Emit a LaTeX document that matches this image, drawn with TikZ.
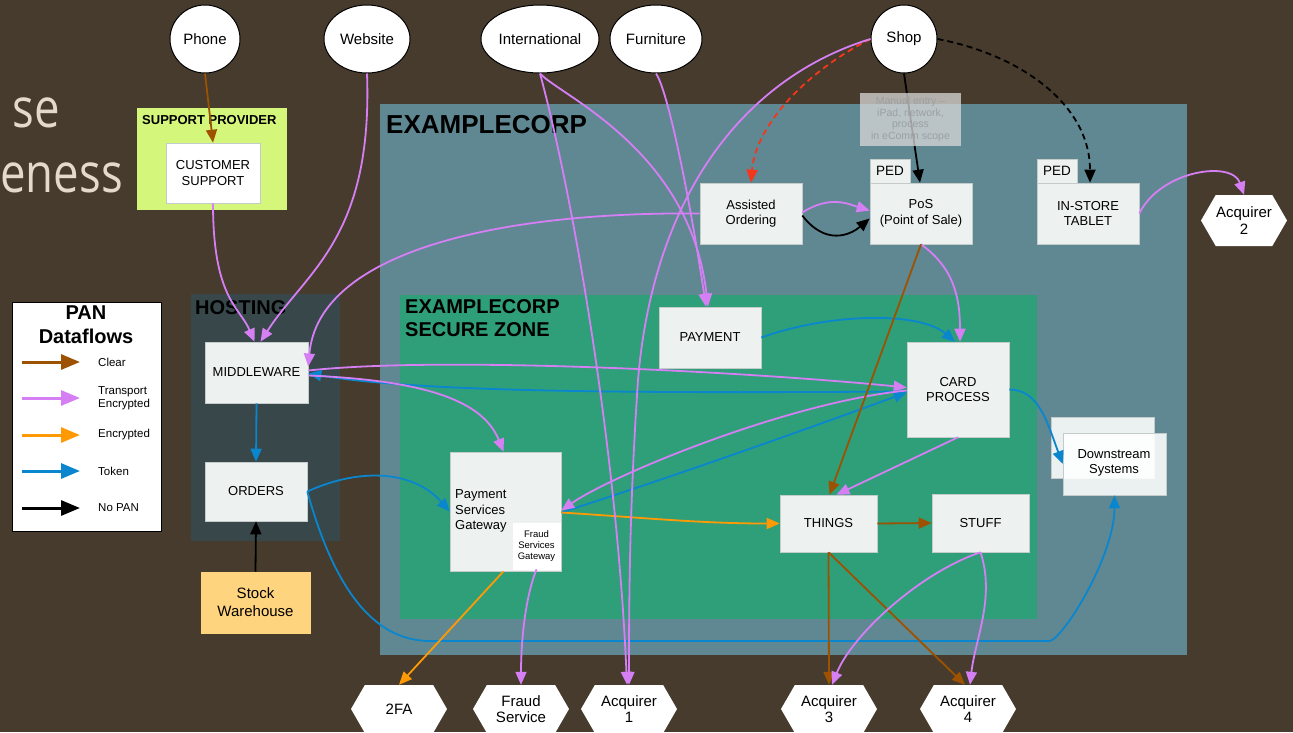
\documentclass[tikz,border=0pt]{standalone}
\usepackage{fontspec}
\setmainfont{Liberation Sans}
\newfontfamily\slidefont{Open Sans}
\usetikzlibrary{arrows.meta,shapes.geometric,shapes.symbols}

\definecolor{bgbrown}{HTML}{463B2C}
\definecolor{corpc}{HTML}{5F8893}
\definecolor{hostc}{HTML}{37474A}
\definecolor{securec}{HTML}{2F9F7A}
\definecolor{supportc}{HTML}{D4F67A}
\definecolor{boxfill}{HTML}{EDF2F1}
\definecolor{boxedge}{HTML}{C3CCCA}
\definecolor{stockc}{HTML}{FFD47F}
\definecolor{slidetext}{HTML}{E3DACB}
\definecolor{clearc}{HTML}{9C5200}
\definecolor{tencc}{HTML}{D67FF5}
\definecolor{encc}{HTML}{FF9A05}
\definecolor{tokc}{HTML}{0A86CF}
\definecolor{redc}{HTML}{F5361B}
\definecolor{notefill}{HTML}{D9D9D9}
\definecolor{notetext}{HTML}{9A9FA2}

\tikzset{
  region/.style={inner sep=0pt, outer sep=0pt},
  regionlabel/.style={inner sep=0pt, font=\bfseries\fontsize{20}{23}\selectfont, align=left},
  box/.style={draw=boxedge, fill=boxfill, line width=0.6pt, inner sep=1pt,
    align=center, font=\fontsize{13}{15.5}\selectfont},
  pedtab/.style={box, minimum width=40, minimum height=24, font=\fontsize{13.5}{15}\selectfont},
  source/.style={ellipse, draw=black, fill=white, line width=1pt, inner sep=0pt,
    minimum height=68, font=\fontsize{15}{17}\selectfont},
  hexa/.style={signal, signal to=east and west, signal pointer angle=120, fill=white,
    inner sep=0pt, minimum height=48, minimum width=96, align=center,
    font=\fontsize{15}{16.5}\selectfont},
  flowline/.style={line width=1.8pt, -{Triangle[length=13pt,width=11pt]}},
  clearflow/.style={flowline, draw=clearc},
  tencflow/.style={flowline, draw=tencc},
  encflow/.style={flowline, draw=encc},
  tokflow/.style={flowline, draw=tokc},
  nopanflow/.style={flowline, draw=black},
  longdash/.style={dash pattern=on 6pt off 4pt},
  keyline/.style={line width=3pt, -{Triangle[length=19pt,width=15pt]}},
  keytext/.style={anchor=west, inner sep=0pt, align=left, font=\fontsize{11.5}{13.5}\selectfont},
  slidebit/.style={anchor=base east, inner sep=0pt, text=slidetext, font=\slidefont\fontsize{45.5}{50}\selectfont},
}

\begin{document}
\begin{tikzpicture}[x=1pt,y=-1pt]
% canvas
\fill[bgbrown] (0,0) rectangle (1293,732);
\useasboundingbox (0,0) rectangle (1293,732);

% slide title fragments at the left edge
\node[slidebit] (titleA) at (60,127) {\scalebox{1}[1.2]{se}};
\node[slidebit] (titleB) at (123,192) {\scalebox{1}[1.2]{eness}};

% zones
\node[region, fill=corpc, minimum width=807, minimum height=551] (corp) at (783.5,379.5) {};
\node[regionlabel, anchor=west, font=\bfseries\fontsize{26}{28}\selectfont] (corplabel) at (386,125) {EXAMPLECORP};
\node[region, fill=securec, minimum width=637, minimum height=324] (secure) at (718.5,457) {};
\node[regionlabel, anchor=north west] (securelabel) at (405,299) {EXAMPLECORP\\SECURE ZONE};
\node[region, fill=hostc, minimum width=149, minimum height=247] (hosting) at (265.5,417.5) {};
\node[regionlabel, anchor=west] (hostlabel) at (195,308) {HOSTING};
\node[region, fill=supportc, minimum width=150, minimum height=102] (support) at (212,159) {};
\node[regionlabel, anchor=west, font=\bfseries\fontsize{13}{15}\selectfont] (supportlabel) at (142,120) {SUPPORT PROVIDER};

% legend
\node[region, fill=white, draw=black, line width=0.8pt, minimum width=149, minimum height=229] (legend) at (86.5,416.5) {};
\node[inner sep=0pt, align=center, font=\bfseries\fontsize{20}{24}\selectfont] (legendtitle) at (86,325) {PAN\\Dataflows};
\coordinate (k1a) at (22,362); \coordinate (k1b) at (80,362);
\coordinate (k2a) at (22,398); \coordinate (k2b) at (80,398);
\coordinate (k3a) at (22,435); \coordinate (k3b) at (80,435);
\coordinate (k4a) at (22,471); \coordinate (k4b) at (80,471);
\coordinate (k5a) at (22,508); \coordinate (k5b) at (80,508);
\draw[keyline, draw=clearc] (k1a) -- (k1b);
\draw[keyline, draw=tencc] (k2a) -- (k2b);
\draw[keyline, draw=encc] (k3a) -- (k3b);
\draw[keyline, draw=tokc] (k4a) -- (k4b);
\draw[keyline, draw=black] (k5a) -- (k5b);
\node[keytext] (kt1) at (98,362) {Clear};
\node[keytext] (kt2) at (98,398) {Transport\\Encrypted};
\node[keytext] (kt3) at (98,435) {Encrypted};
\node[keytext] (kt4) at (98,471) {Token};
\node[keytext] (kt5) at (98,508) {No PAN};

% sources
\node[source, minimum width=70] (phone) at (205,39) {Phone};
\node[source, minimum width=86] (web) at (367,39) {Website};
\node[source, minimum width=118] (intl) at (540,39) {International};
\node[source, minimum width=92] (furn) at (656,39) {Furniture};
\node[source, minimum width=66] (shop) at (904,39) {Shop};

% systems
\node[box, fill=white, minimum width=94, minimum height=60] (cs) at (213,173) {CUSTOMER\\SUPPORT};
\node[box, minimum width=103, minimum height=61] (mw) at (256.5,372.5) {MIDDLEWARE};
\node[box, minimum width=102, minimum height=59] (ord) at (256,491.5) {ORDERS};
\node[box, fill=stockc, draw=stockc, minimum width=109, minimum height=61, font=\fontsize{15}{18}\selectfont] (stock) at (255.5,602.5) {Stock\\Warehouse};
\node[box, minimum width=102, minimum height=61] (ao) at (751,213.5) {Assisted\\Ordering};
\node[pedtab] (pedpos) at (890,171) {PED};
\node[box, minimum width=102, minimum height=61] (pos) at (921,213.5) {PoS\\(Point of Sale)};
\node[pedtab] (pedist) at (1057,171) {PED};
\node[box, minimum width=102, minimum height=61] (ist) at (1088,213.5) {IN-STORE\\TABLET};
\node[box, minimum width=102, minimum height=61] (pay) at (710,337.5) {PAYMENT};
\node[box, minimum width=102, minimum height=95] (card) at (958,389.5) {CARD\\PROCESS};
\node[box, minimum width=111, minimum height=119] (psg) at (505.5,511.5) {};
\node[inner sep=0pt, anchor=west, align=left, font=\fontsize{13}{15.5}\selectfont] (psgtext) at (455,511) {Payment\\Services\\Gateway};
\node[box, fill=white, draw=white, minimum width=47, minimum height=46, font=\fontsize{9.5}{11}\selectfont] (fsg) at (536.5,546) {Fraud\\Services\\Gateway};
\node[box, minimum width=97, minimum height=57] (things) at (828.5,523.5) {THINGS};
\node[box, minimum width=97, minimum height=58] (stuff) at (980.5,523) {STUFF};
\node[box, fill=white, fill opacity=0.88, minimum width=103, minimum height=61] (dsb) at (1102.5,447.5) {};
\node[box, fill=white, fill opacity=0.88, minimum width=103, minimum height=62] (dsf) at (1114.5,464) {};
\node[inner sep=0pt, align=center, font=\fontsize{13}{15.5}\selectfont] (dstext) at (1114,463) {Downstream\\Systems};

% acquirers and external services
\node[hexa] (tfa) at (399,709) {2FA};
\node[hexa] (fraud) at (521,709) {Fraud\\Service};
\node[hexa] (acq1) at (629,709) {Acquirer\\1};
\node[hexa] (acq3) at (829,709) {Acquirer\\3};
\node[hexa] (acq4) at (968,709) {Acquirer\\4};
\node[hexa, minimum width=86, minimum height=51] (acq2) at (1244,220.5) {Acquirer\\2};

% data flows
\draw[clearflow] (phone.south) -- (cs.north);
\draw[tencflow] (cs.south) .. controls +(0,95) and +(-15,-35) .. ([xshift=-2pt]mw.north);
\draw[tencflow] (web.south) .. controls +(6,165) and +(45,-70) .. ([xshift=4pt]mw.north);
\draw[tencflow] (ao.west) .. controls +(-200,-2) and +(10,-115) .. ([yshift=6pt]mw.east);
\draw[tencflow] ([yshift=2pt]mw.east) .. controls +(140,-15) and +(-150,-15) .. ([yshift=2pt]card.west);
\draw[tokflow] ([yshift=-2pt]card.west) .. controls +(-300,2) and +(110,18) .. ([yshift=-1pt]mw.east);
\draw[tencflow] ([yshift=-3pt]mw.east) .. controls +(120,5) and +(-20,-50) .. ([xshift=-2pt]psg.north);
\draw[tokflow] (mw.south) -- (ord.north);
\draw[nopanflow] (stock.north) -- (ord.south);
\draw[tokflow] (ord.east) .. controls +(55,-25) and +(-35,-40) .. (psg.west);
\coordinate (busL) at (430,641);
\coordinate (busR) at (1050,641);
\draw[tokflow] (ord.east) .. controls +(25,90) and +(-60,0) .. (busL) -- (busR) .. controls +(15,-5) and +(0,60) .. (dsf.south);
\draw[tokflow] ([yshift=-1pt]psg.east) .. controls +(140,-45) and +(-55,20) .. ([yshift=-3pt]card.west);
\draw[tencflow] ([yshift=-1pt]card.west) .. controls +(-120,12) and +(50,-35) .. ([yshift=1pt]psg.east);
\draw[encflow] ([yshift=-1pt]psg.east) .. controls +(80,5) and +(-80,0) .. (things.west);
\draw[encflow] ([xshift=-2pt]psg.south) -- (tfa.north);
\draw[tencflow] (fsg.south) .. controls +(-12,30) and +(0,-40) .. (fraud.north);
\draw[tokflow] (pay.east) .. controls +(70,-25) and +(-35,-30) .. ([xshift=-3pt]card.north);
\draw[tencflow] (pos.south) .. controls +(35,25) and +(0,-40) .. ([xshift=2pt]card.north);
\draw[clearflow] (pos.south) -- ([xshift=1pt]things.north);
\draw[tencflow] (card.south) -- ([xshift=8pt]things.north);
\draw[tokflow] (card.east) .. controls +(30,0) and +(-15,-40) .. (dsf.west);
\draw[clearflow] (things.east) -- (stuff.west);
\draw[clearflow] (things.south) -- (acq3.north);
\draw[clearflow] (things.south) -- ([xshift=-3pt]acq4.north);
\draw[tencflow] (stuff.south) .. controls +(-60,20) and +(20,-50) .. ([xshift=3pt]acq3.north);
\draw[tencflow] (stuff.south) .. controls +(15,45) and +(5,-45) .. ([xshift=2pt]acq4.north);
\draw[flowline, draw=redc, longdash] (shop.west) .. controls +(-60,30) and +(5,-60) .. (ao.north);
\draw[nopanflow] (shop.south) -- ([xshift=-1pt]pos.north);
\draw[nopanflow, longdash] (shop.east) .. controls +(80,15) and +(0,-80) .. ([xshift=2pt]ist.north);
\coordinate (shopmid) at (638,380);
\draw[tencflow] (shop.west) .. controls +(-130,40) and +(15,-180) .. (shopmid) .. controls +(-8,120) and +(0,-100) .. (acq1.north);
\draw[tencflow] (intl.south) .. controls +(35,130) and +(-10,-230) .. ([xshift=-2pt]acq1.north);
\draw[tencflow] (intl.south) .. controls +(20,22) and +(-18,-157) .. ([xshift=-2pt]pay.north);
\draw[tencflow] (furn.south) .. controls +(12,17) and +(-16,-107) .. ([xshift=-4pt]pay.north);
\draw[tencflow] ([yshift=1pt]ao.east) .. controls +(28,-18) and +(-20,-6) .. ([yshift=3pt]pos.west);
\draw[nopanflow] ([yshift=-2pt]ao.east) .. controls +(23,30) and +(-20,17) .. ([yshift=-5pt]pos.west);
\draw[tencflow] (ist.east) .. controls +(21,-43) and +(-12,-35) .. (acq2.north);

% note over the shop-to-PoS link
\node[fill=notefill, fill opacity=0.75, text opacity=1, text=notetext, inner sep=0pt,
  minimum width=101, minimum height=53, align=center, font=\fontsize{10.5}{11.5}\selectfont] (mnote) at (910.5,119.5)
  {Manual entry --\\iPad, network,\\process\\in eComm scope};
\end{tikzpicture}
\end{document}
